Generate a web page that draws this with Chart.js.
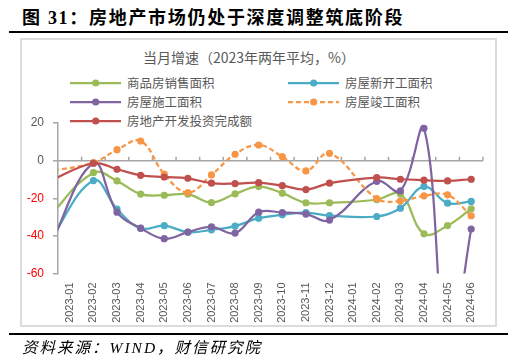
<!DOCTYPE html>
<html>
<head>
<meta charset="utf-8">
<script src="https://cdn.jsdelivr.net/npm/chart.js@4.4.1/dist/chart.umd.min.js"></script>
<style>
  html, body { margin: 0; padding: 0; background: #fff; }
  body { width: 520px; height: 363px; position: relative; overflow: hidden; font-family: "Noto Sans CJK SC", sans-serif; }
  #title { position: absolute; left: 22px; top: 6px; font: bold 18px/24px "Liberation Serif", "Noto Sans CJK SC", serif; letter-spacing: 1.7px; color: #000; white-space: nowrap; }
  .rule { position: absolute; left: 9px; width: 499px; height: 2px; background: #000; }
  #box { position: absolute; left: 20px; top: 38px; width: 473px; height: 285px; border: 2px solid #dcdcdc; }
  #ctitle { position: absolute; left: 0; width: 498px; top: 47px; text-align: center; font: 14px/20px "Noto Sans CJK SC", sans-serif; color: #595959; }
  .lg { position: absolute; height: 16px; white-space: nowrap; font: 12.5px/16px "Noto Sans CJK SC", sans-serif; color: #595959; }
  .lg svg { position: absolute; left: 0; top: 0; }
  .lg span { position: absolute; left: 57px; top: 0; }
  #source { position: absolute; left: 22px; top: 338px; font: italic 15.5px/20px "Liberation Serif", "Noto Sans CJK SC", serif; letter-spacing: 2px; color: #000; white-space: nowrap; }
  #chart { position: absolute; left: 0; top: 0; }
</style>
</head>
<body>
<div id="title">图 31：房地产市场仍处于深度调整筑底阶段</div>
<div class="rule" style="top:31px"></div>
<div id="box"></div>
<div id="ctitle">当月增速（2023年两年平均，%）</div>
<div id="legend"></div>
<canvas id="chart" width="520" height="363"></canvas>
<div class="rule" style="top:333px"></div>
<div id="source">资料来源：WIND，财信研究院</div>

<script>
// months; 2022-12 sits just left of the visible range so lines run to the axis
const months = ['2022-12', '2023-01', '2023-02', '2023-03', '2023-04', '2023-05', '2023-06', '2023-07', '2023-08', '2023-09',
  '2023-10', '2023-11', '2023-12', '2024-01', '2024-02', '2024-03', '2024-04', '2024-05', '2024-06'];

const salesArea = [-31.5, null, -6.4, -10.8, -17.8, -18.4, -17.8, -22.3, -17.7, -13.8, -17.3, -22.4, -22.4, null, -20.8, -17.8, -38.9, -34.5, -25.6];
const newStarts = [-46, null, -10.6, -25.8, -36.0, -34.6, -38.0, -36.8, -34.8, -30.6, -28.8, -27.6, -29.2, null, -29.7, -25.3, -13.8, -22.6, -21.7];
const underConstruction = [-50, null, -1.4, -27.4, -35.9, -41.5, -38.0, -35.2, -38.5, -27.4, -27.6, -28.4, -31.6, null, -11.0, -16.1, 17.2, -105, -36.4];
const completed = [-6, null, -1.0, 5.8, 10.4, -7.2, -17.0, -7.6, 3.4, 8.3, 2.1, -5.5, 3.9, null, -20.2, -21.5, -18.7, -18.2, -29.3];
const investment = [-11.7, null, -1.4, -4.6, -7.8, -8.7, -9.4, -12.0, -12.2, -11.7, -13.3, -15.4, -12.0, null, -9.0, -9.9, -10.4, -10.8, -9.9];

const yTicks = [-60, -40, -20, 0, 20];

const series = [
  { name: '商品房销售面积', data: salesArea, color: '#9BBB59', dash: [] },
  { name: '房屋新开工面积', data: newStarts, color: '#4BACC6', dash: [] },
  { name: '房屋施工面积', data: underConstruction, color: '#8064A2', dash: [] },
  { name: '房屋竣工面积', data: completed, color: '#F79646', dash: [5, 3] },
  { name: '房地产开发投资完成额', data: investment, color: '#C0504D', dash: [] }
];

// legend slots (left, center y) – two columns like the original
const legendSlots = [[70, 82.7], [288, 82.7], [70, 102], [288, 102], [70, 121]];

const legendEl = document.getElementById('legend');
series.forEach((s, i) => {
  const [lx, cy] = legendSlots[i];
  const d = document.createElement('div');
  d.className = 'lg';
  d.style.left = lx + 'px';
  d.style.top = (cy - 8) + 'px';
  d.innerHTML = `<svg width="52" height="16"><line x1="0" y1="8" x2="51" y2="8" stroke="${s.color}" stroke-width="2.25" stroke-dasharray="${s.dash.join(',') || 'none'}"/><circle cx="25.7" cy="8" r="3.6" fill="${s.color}"/></svg><span>${s.name}</span>`;
  legendEl.appendChild(d);
});

// zero line with small upward tick marks between categories
const zeroAxis = {
  id: 'zeroAxis',
  beforeDatasetsDraw(chart) {
    const { ctx, chartArea: a, scales: { x, y } } = chart;
    const y0 = y.getPixelForValue(0);
    const n = x.ticks.length;
    const step = (a.right - a.left) / n;
    ctx.save();
    ctx.strokeStyle = '#a6a6a6';
    ctx.lineWidth = 1.5;
    ctx.beginPath();
    ctx.moveTo(a.left, y0);
    ctx.lineTo(a.right, y0);
    for (let i = 1; i <= n; i++) {
      const px = a.left + i * step;
      ctx.moveTo(px, y0);
      ctx.lineTo(px, y0 - 4);
    }
    ctx.stroke();
    ctx.restore();
  }
};

Chart.defaults.font.family = '"Liberation Sans", "Noto Sans CJK SC", sans-serif';

new Chart(document.getElementById('chart').getContext('2d'), {
  type: 'line',
  data: {
    labels: months,
    datasets: series.map((s, i) => ({
      label: s.name,
      data: s.data,
      borderColor: s.color,
      backgroundColor: s.color,
      borderWidth: 2.25,
      borderDash: s.dash,
      pointRadius: 3.6,
      pointBorderWidth: 0,
      pointBackgroundColor: s.color,
      tension: 0.4,
      spanGaps: true,
      fill: false,
      order: series.length - i
    }))
  },
  options: {
    responsive: false,
    animation: false,
    devicePixelRatio: 1,
    layout: { padding: { left: 18, right: 37, top: 123, bottom: 34.5 } },
    elements: { line: { capBezierPoints: false } },
    plugins: { legend: { display: false }, tooltip: { enabled: false } },
    scales: {
      x: {
        type: 'category',
        min: '2023-01',
        offset: true,
        grid: { display: false, drawTicks: false },
        border: { display: false },
        ticks: { autoSkip: false, minRotation: 90, maxRotation: 90, padding: 9, color: '#595959', font: { size: 11 } },
        afterFit: (s) => { s.height = 55; }
      },
      y: {
        min: yTicks[0],
        max: yTicks[yTicks.length - 1],
        afterBuildTicks: (s) => { s.ticks = yTicks.map(v => ({ value: v })); },
        ticks: {
          padding: 9,
          font: { size: 12 },
          color: (c) => (c.tick.value < 0 ? '#ff0000' : '#595959')
        },
        grid: { drawOnChartArea: false, tickLength: 5, color: '#a6a6a6', lineWidth: 1.5 },
        border: { color: '#a6a6a6', width: 1.5 },
        afterFit: (s) => { s.width = 40; }
      }
    }
  },
  plugins: [zeroAxis]
});
</script>
</body>
</html>
